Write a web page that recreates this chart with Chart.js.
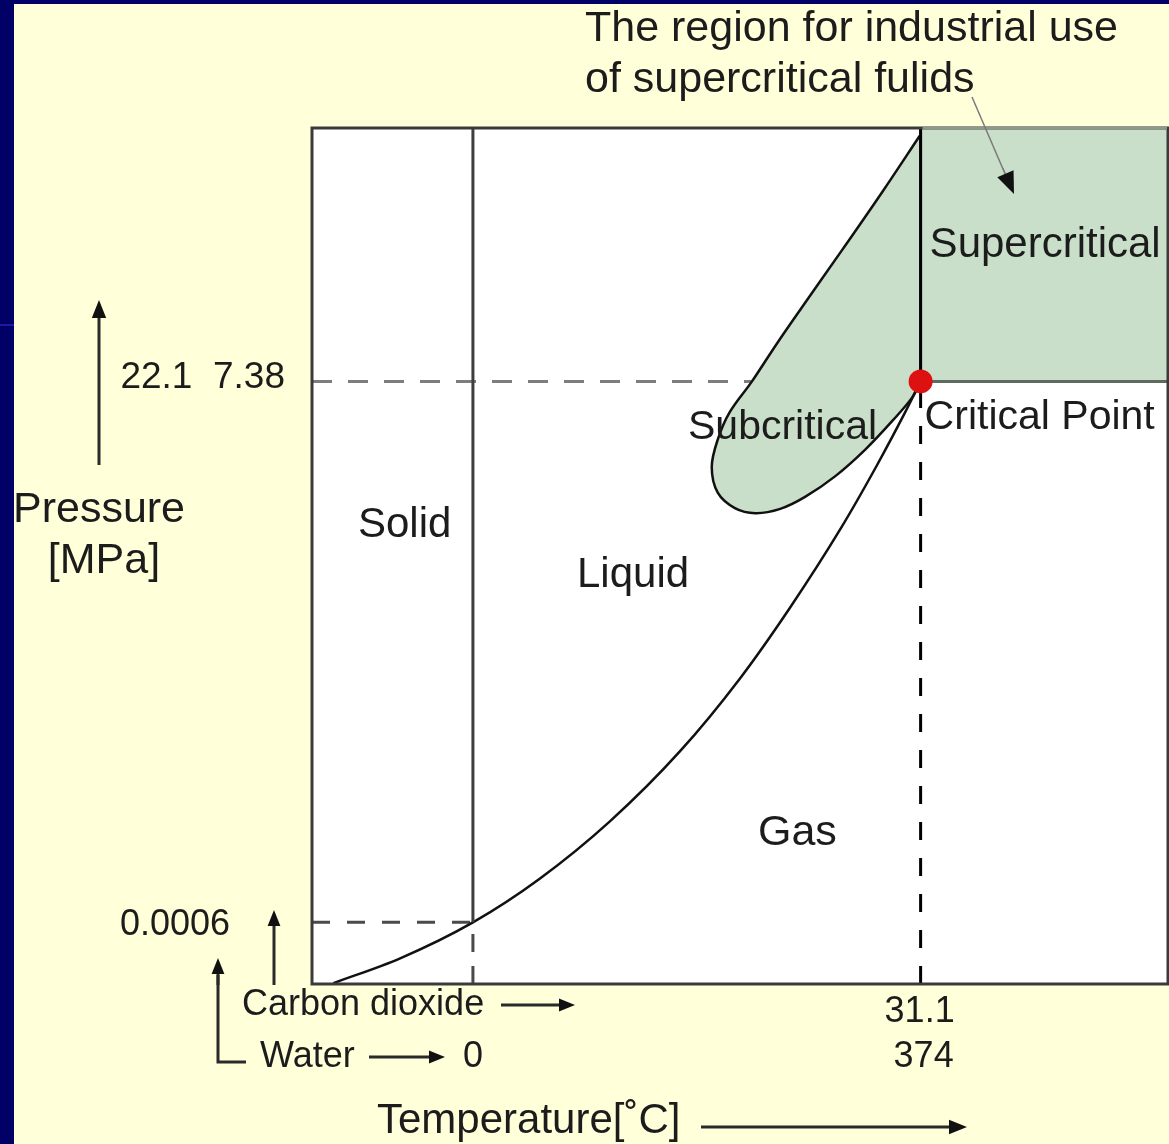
<!DOCTYPE html>
<html>
<head>
<meta charset="utf-8">
<script src="https://cdn.jsdelivr.net/npm/chart.js@4"></script>
<style>
  html, body { margin: 0; padding: 0; background: #ffffda; }
  canvas { display: block; }
</style>
</head>
<body>
<canvas id="phaseChart" width="1169" height="1144"></canvas>
<script>
// schematic phase diagram, both axes run 0..100 (not to scale)
const criticalX = 71.1;
const criticalY = 70.4;
const waterZeroX = 18.8;
const triplePointY = 7.2;

// gas / liquid boundary (vapour pressure curve)
const vaporX = [2.5, 10.3, 18.8, 26.6, 34.8, 43.0, 50.0, 55.8, 61.7, 66.0, 69.3, 71.1];
const vaporY = [0.1, 3.0, 7.2, 12.3, 19.0, 27.2, 35.7, 43.9, 53.1, 60.6, 66.8, 70.4];

// subcritical (green) region outline
const subX = [71.0, 66.6, 61.9, 57.2, 54.3, 51.4, 48.8, 47.4, 46.7, 47.4, 49.4, 51.8, 54.7, 57.6, 61.1, 64.6, 67.9, 70.1, 71.1, 71.1, 71.1];
const subY = [99.1, 92.5, 85.7, 79.0, 74.8, 70.4, 66.8, 63.6, 60.4, 57.4, 55.6, 55.0, 55.5, 56.9, 59.3, 62.4, 65.9, 68.5, 70.4, 70.4, 100];

// supercritical region (upper right)
const superX = [criticalX, 100, 100, criticalX, criticalX];
const superY = [100, 100, criticalY, criticalY, 100];

// tick labels
const pressureTickLabels = ['0.0006', '22.1  7.38'];
const co2TempLabel = '31.1';
const waterTempLabels = ['0', '374'];

const pts = (xs, ys) => xs.map((x, i) => ({ x: x, y: ys[i] }));

const GREEN = '#c9dfc9';
const INK = '#1c1c1c';

function arrow(ctx, x1, y1, x2, y2, width, head, color) {
  const ang = Math.atan2(y2 - y1, x2 - x1);
  ctx.save();
  ctx.strokeStyle = color || '#2a2a2a';
  ctx.lineWidth = width;
  ctx.beginPath();
  ctx.moveTo(x1, y1);
  ctx.lineTo(x2 - Math.cos(ang) * head * 0.6, y2 - Math.sin(ang) * head * 0.6);
  ctx.stroke();
  ctx.fillStyle = '#111';
  ctx.beginPath();
  ctx.moveTo(x2, y2);
  ctx.lineTo(x2 - head * Math.cos(ang) + head * 0.4 * Math.sin(ang), y2 - head * Math.sin(ang) - head * 0.4 * Math.cos(ang));
  ctx.lineTo(x2 - head * Math.cos(ang) - head * 0.4 * Math.sin(ang), y2 - head * Math.sin(ang) + head * 0.4 * Math.cos(ang));
  ctx.closePath();
  ctx.fill();
  ctx.restore();
}

function text(ctx, str, x, y, size, align) {
  ctx.font = size + 'px "Liberation Sans", Arial, sans-serif';
  ctx.textAlign = align || 'left';
  ctx.textBaseline = 'middle';
  ctx.fillStyle = INK;
  ctx.fillText(str, x, y);
}

const plotBackground = {
  id: 'plotBackground',
  beforeDatasetsDraw(chart) {
    const { ctx, chartArea: a } = chart;
    ctx.save();
    ctx.fillStyle = '#ffffff';
    ctx.fillRect(a.left, a.top, a.right - a.left, a.bottom - a.top);
    ctx.restore();
  },
  afterDatasetsDraw(chart) {
    const { ctx, chartArea: a } = chart;
    const cx = chart.scales.x.getPixelForValue(criticalX);
    ctx.save();
    ctx.strokeStyle = '#3a3a3a';
    ctx.lineWidth = 3;
    ctx.strokeRect(a.left, a.top, a.right - a.left, a.bottom - a.top);
    // softer top edge over the supercritical block
    ctx.strokeStyle = '#8c9a8c';
    ctx.beginPath();
    ctx.moveTo(cx + 2, a.top);
    ctx.lineTo(a.right - 1, a.top);
    ctx.stroke();
    ctx.restore();
  }
};

const annotations = {
  id: 'annotations',
  afterDraw(chart) {
    const { ctx, chartArea: a } = chart;
    const xs = chart.scales.x, ys = chart.scales.y;
    const cx = xs.getPixelForValue(criticalX);
    const cy = ys.getPixelForValue(criticalY);
    const wx = xs.getPixelForValue(waterZeroX);
    const ty = ys.getPixelForValue(triplePointY);

    // region names
    text(ctx, 'Supercritical', cx + 9, 245, 42);
    text(ctx, 'Critical Point', cx + 4, cy + 36, 41);
    text(ctx, 'Subcritical', 688, cy + 46, 41);
    text(ctx, 'Solid', 358, 525, 42);
    text(ctx, 'Liquid', 577, 575, 42);
    text(ctx, 'Gas', 758, 833, 43);

    // callout
    text(ctx, 'The region for industrial use', 585, 29, 43);
    text(ctx, 'of supercritical fulids', 585, 80, 43);
    ctx.save();
    ctx.strokeStyle = '#7a7a7a';
    ctx.lineWidth = 1.5;
    ctx.beginPath();
    ctx.moveTo(972, 97);
    ctx.lineTo(1006, 176);
    ctx.stroke();
    ctx.restore();
    arrow(ctx, 1003, 168, 1014, 194, 1, 22, '#7a7a7a');

    // pressure axis
    text(ctx, 'Pressure', 99, 510, 43, 'center');
    text(ctx, '[MPa]', 104, 561, 43, 'center');
    arrow(ctx, 99, 465, 99, 300, 3, 18);
    text(ctx, pressureTickLabels[1], a.left - 27, cy - 4, 37, 'right');
    text(ctx, pressureTickLabels[0], 120, ty + 3, 36);
    arrow(ctx, 274, 985, 274, 910, 3, 16);

    // water bracket arrow
    ctx.save();
    ctx.strokeStyle = '#2a2a2a';
    ctx.lineWidth = 3;
    ctx.beginPath();
    ctx.moveTo(246, 1062);
    ctx.lineTo(218, 1062);
    ctx.lineTo(218, 975);
    ctx.stroke();
    ctx.restore();
    arrow(ctx, 218, 985, 218, 958, 3, 16);

    // temperature axis
    text(ctx, 'Carbon dioxide', 242, 1005, 36);
    arrow(ctx, 501, 1005, 575, 1005, 3, 16);
    text(ctx, 'Water', 260, 1057, 36);
    arrow(ctx, 369, 1057, 445, 1057, 3, 16);
    text(ctx, waterTempLabels[0], wx, 1057, 36, 'center');
    text(ctx, co2TempLabel, cx - 1, 1012, 36, 'center');
    text(ctx, waterTempLabels[1], cx + 3, 1057, 36, 'center');
    text(ctx, 'Temperature[\u02daC]', 377, 1121, 42);
    arrow(ctx, 701, 1127, 967, 1127, 3, 18);

    // navy slide frame
    ctx.save();
    ctx.fillStyle = '#000066';
    ctx.fillRect(0, 0, 14, chart.height);
    ctx.fillRect(0, 0, chart.width, 4);
    ctx.fillStyle = '#1a1aa8';
    ctx.fillRect(0, 324, 14, 2);
    ctx.restore();
  }
};

const line = (data, color, width, order, dash) => ({
  data: data,
  showLine: true,
  borderColor: color,
  borderWidth: width,
  borderDash: dash || [],
  pointRadius: 0,
  fill: false,
  tension: 0,
  order: order
});

const ctx = document.getElementById('phaseChart').getContext('2d');
const chart = new Chart(ctx, {
  type: 'scatter',
  data: {
    datasets: [
      line(pts([0, criticalX], [criticalY, criticalY]), '#7d7d7d', 3, 20, [20, 16]),
      line(pts([0, waterZeroX], [triplePointY, triplePointY]), '#4a4a4a', 3, 20, [18, 17]),
      {
        data: pts(superX, superY),
        showLine: true,
        borderWidth: 0,
        borderColor: 'rgba(0,0,0,0)',
        backgroundColor: GREEN,
        pointRadius: 0,
        fill: 'shape',
        order: 19
      },
      {
        data: pts(subX, subY),
        showLine: true,
        borderColor: '#111',
        borderWidth: 2.5,
        backgroundColor: GREEN,
        pointRadius: 0,
        fill: 'shape',
        tension: 0.35,
        order: 18
      },
      Object.assign(line(pts(vaporX, vaporY), '#111', 2.5, 17), { cubicInterpolationMode: 'monotone' }),
      line(pts([waterZeroX, waterZeroX], [triplePointY, 100]), '#3e3e3e', 3, 16),
      line(pts([waterZeroX, waterZeroX], [0, triplePointY]), '#4a4a4a', 3, 16, [18, 14]),
      line(pts([criticalX, criticalX], [criticalY, 100]), '#000', 3, 15),
      line(pts([criticalX, criticalX], [0, criticalY]), '#000', 3, 15, [18, 18]),
      line(pts([criticalX, 100], [criticalY, criticalY]), '#5f6a5f', 3, 15),
      {
        data: [{ x: criticalX, y: criticalY }],
        pointRadius: 12,
        pointBackgroundColor: '#dd1111',
        pointBorderWidth: 0,
        showLine: false,
        order: 0
      }
    ]
  },
  options: {
    responsive: false,
    devicePixelRatio: 1,
    animation: false,
    layout: { autoPadding: false, padding: { left: 312, right: 1, top: 128, bottom: 160 } },
    plugins: { legend: { display: false }, tooltip: { enabled: false } },
    scales: {
      x: { type: 'linear', min: 0, max: 100, display: false },
      y: { type: 'linear', min: 0, max: 100, display: false }
    }
  },
  plugins: [plotBackground, annotations]
});
</script>
</body>
</html>
